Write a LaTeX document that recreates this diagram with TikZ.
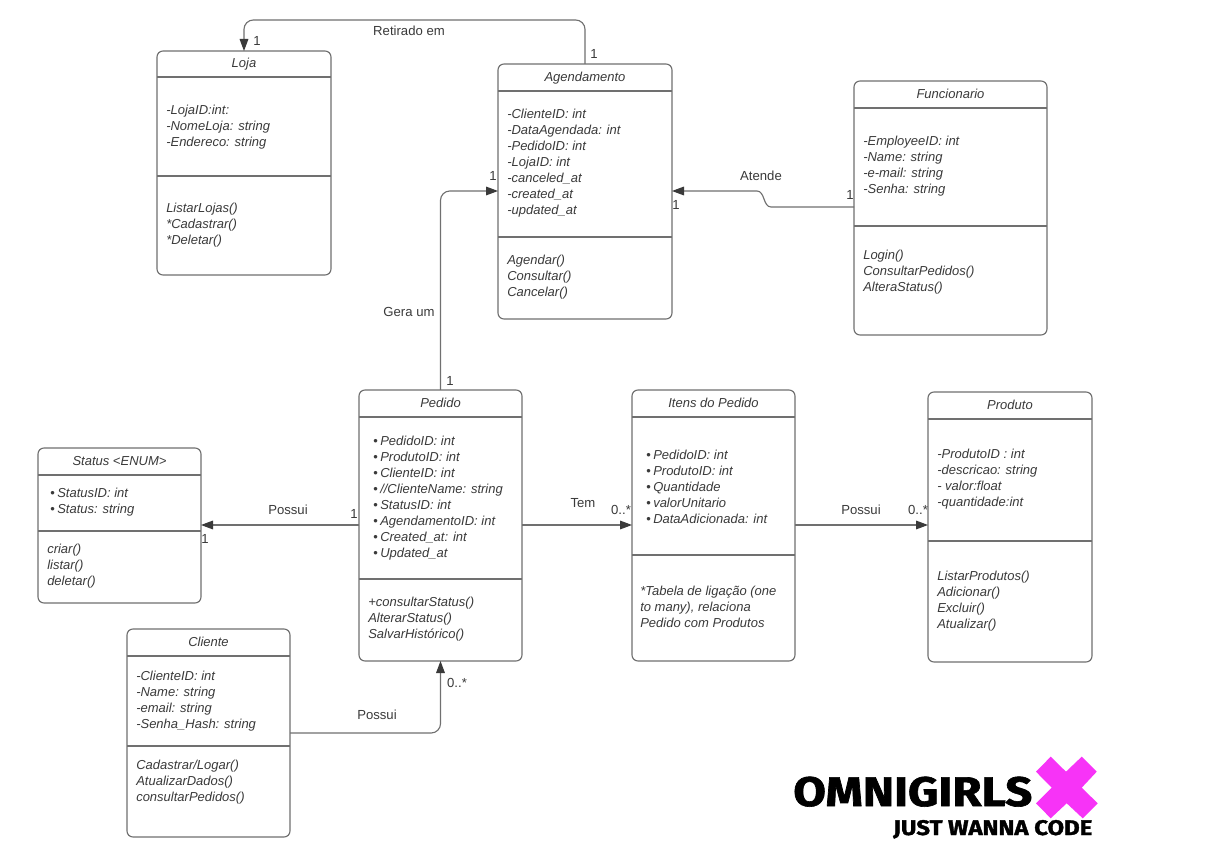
\documentclass[tikz,border=0pt]{standalone}
\usepackage{fontspec}
\usepackage{graphicx}
\setmainfont{Liberation Sans}
\newfontfamily\logofont[BoldFeatures={FakeBold=1.5}]{Fira Sans}
\usetikzlibrary{arrows.meta}
\newcommand\pxu{0.75pt}
\newcommand\bul{\makebox[7\dimexpr\pxu\relax][l]{\upshape\textbullet}}
\definecolor{linegray}{HTML}{707070}
\definecolor{inkgray}{HTML}{3A3A3A}
\definecolor{logomag}{HTML}{F733F7}
\tikzset{
  classbox/.style={draw=linegray,line width=0.85pt,rounded corners=4.5pt,fill=white,inner sep=0pt,outer sep=0pt},
  divider/.style={draw=linegray,line width=0.85pt},
  titletext/.style={font=\fontsize{9.75}{12}\selectfont\itshape,text=inkgray,inner sep=0pt,yshift=-1.5pt},
  membertext/.style={font=\fontsize{9.75}{12}\selectfont\itshape,text=inkgray,inner sep=0pt,anchor=west,align=left,yshift=-1.2pt},
  linklabel/.style={font=\fontsize{9.85}{12}\selectfont,text=inkgray,inner sep=0pt,yshift=-0.5pt},
  connector/.style={draw=linegray,line width=0.85pt,rounded corners=7pt},
  arrowed/.style={connector,-{Triangle[length=9pt,width=6.5pt,color=inkgray]}},
}
\begin{document}
\begin{tikzpicture}[x=0.75pt,y=-0.75pt]
\useasboundingbox (0,0) rectangle (1208,866);
\fill[white] (0,0) rectangle (1208,866);

% class boxes
\node[classbox,minimum width=174*\pxu,minimum height=224*\pxu] (loja) at (244,163) {};
\node[classbox,minimum width=174*\pxu,minimum height=255*\pxu] (agend) at (585,191.5) {};
\node[classbox,minimum width=193*\pxu,minimum height=254*\pxu] (func) at (950.5,208) {};
\node[classbox,minimum width=163*\pxu,minimum height=271*\pxu] (pedido) at (440.5,525.5) {};
\node[classbox,minimum width=163*\pxu,minimum height=271*\pxu] (itens) at (713.5,525.5) {};
\node[classbox,minimum width=164*\pxu,minimum height=270*\pxu] (produto) at (1010,527) {};
\node[classbox,minimum width=163*\pxu,minimum height=155*\pxu] (status) at (119.5,525.5) {};
\node[classbox,minimum width=163*\pxu,minimum height=208*\pxu] (cliente) at (208.5,733) {};

% dividers
\foreach \b/\ya/\yb in {loja/77/176,agend/91/237,func/108/226,pedido/417/579,itens/417/555,produto/419/541,status/475/531,cliente/656/746}{
  \draw[divider] (\b.west |- 0,\ya) -- (\b.east |- 0,\ya);
  \draw[divider] (\b.west |- 0,\yb) -- (\b.east |- 0,\yb);
}

% titles
\node[titletext] (tLoja) at (244,62.5) {Loja};
\node[titletext] (tAgend) at (585,76) {Agendamento};
\node[titletext] (tFunc) at (950.5,91.5) {Funcionario};
\node[titletext] (tPedido) at (440.5,400.5) {Pedido};
\node[titletext] (tItens) at (713.5,400.5) {Itens do Pedido};
\node[titletext] (tProduto) at (1010,402.5) {Produto};
\node[titletext] (tStatus) at (119.5,459.5) {Status <ENUM>};
\node[titletext] (tCliente) at (208.5,639.5) {Cliente};

% members
\node[membertext] (mLoja) at (166,126) {-LojaID:int:\\-NomeLoja: string\\-Endereco: string};
\node[membertext] (oLoja) at (166,224) {ListarLojas()\\*Cadastrar()\\*Deletar()};
\node[membertext] (mAgend) at (507,162) {-ClienteID: int\\-DataAgendada: int\\-PedidoID: int\\-LojaID: int\\-canceled\_at\\-created\_at\\-updated\_at};
\node[membertext] (oAgend) at (507,276) {Agendar()\\Consultar()\\Cancelar()};
\node[membertext] (mFunc) at (863,165) {-EmployeeID: int\\-Name: string\\-e-mail: string\\-Senha: string};
\node[membertext] (oFunc) at (863,271) {Login()\\ConsultarPedidos()\\AlteraStatus()};
\node[membertext] (mPedido) at (373,497) {\bul PedidoID: int\\\bul ProdutoID: int\\\bul ClienteID: int\\\bul //ClienteName: string\\\bul StatusID: int\\\bul AgendamentoID: int\\\bul Created\_at: int\\\bul Updated\_at};
\node[membertext] (oPedido) at (368,618) {+consultarStatus()\\AlterarStatus()\\SalvarHistórico()};
\node[membertext] (mItens) at (646,485) {\bul PedidoID: int\\\bul ProdutoID: int\\\bul Quantidade\\\bul valorUnitario\\\bul DataAdicionada: int};
\node[membertext] (oItens) at (640,605.5) {*Tabela de ligação (one\\to many), relaciona\\Pedido com Produtos};
\node[membertext] (mProduto) at (937,478) {-ProdutoID : int\\-descricao: string\\- valor:float\\-quantidade:int};
\node[membertext] (oProduto) at (937,600) {ListarProdutos()\\Adicionar()\\Excluir()\\Atualizar()};
\node[membertext] (mStatus) at (50,501) {\bul StatusID: int\\\bul Status: string};
\node[membertext] (oStatus) at (47,565) {criar()\\listar()\\deletar()};
\node[membertext] (mCliente) at (136,700) {-ClienteID: int\\-Name: string\\-email: string\\-Senha\_Hash: string};
\node[membertext] (oCliente) at (136,781) {Cadastrar/Logar()\\AtualizarDados()\\consultarPedidos()};

% connector ports
\coordinate (agendW) at (498,191);
\coordinate (agendE) at (672,191);
\coordinate (funcW) at (854,207);
\coordinate (atA) at (771,207);
\coordinate (atB) at (757,191);
\coordinate (atCa) at (763,207);
\coordinate (atCb) at (765,191);
\coordinate (topRun) at (400,20);
\coordinate (pedidoW) at (359,525);
\coordinate (statusE) at (201,525);
\coordinate (pedidoE) at (522,525);
\coordinate (itensW) at (632,525);
\coordinate (itensE) at (795,525);
\coordinate (produtoW) at (928,525);
\coordinate (clienteE) at (290,733);

% connectors
\draw[arrowed] (agend.north) |- (topRun) -| (loja.north);
\draw[arrowed] (pedido.north) |- (agendW);
\draw[arrowed,rounded corners=0pt] (funcW) -- (atA) .. controls (atCa) and (atCb) .. (atB) -- (agendE);
\draw[arrowed] (pedidoW) -- (statusE);
\draw[arrowed] (pedidoE) -- (itensW);
\draw[arrowed] (itensE) -- (produtoW);
\draw[arrowed] (clienteE) -| (pedido.south);

% link labels
\node[linklabel] (lRet) at (409,30) {Retirado em};
\node[linklabel] (lGera) at (409,311) {Gera um};
\node[linklabel] (lAtende) at (761,175) {Atende};
\node[linklabel] (lPossuiA) at (288,509) {Possui};
\node[linklabel] (lTem) at (583,502) {Tem};
\node[linklabel] (lPossuiB) at (861,509) {Possui};
\node[linklabel] (lPossuiC) at (377,714) {Possui};
\node[linklabel] (c1) at (257,40) {1};
\node[linklabel] (c2) at (594,53) {1};
\node[linklabel] (c3) at (493,175) {1};
\node[linklabel] (c4) at (450,380) {1};
\node[linklabel] (c5) at (676,204) {1};
\node[linklabel] (c6) at (850,194) {1};
\node[linklabel] (c7) at (354,513) {1};
\node[linklabel] (c8) at (205,538) {1};
\node[linklabel] (c9) at (621,509) {0..*};
\node[linklabel] (c10) at (918,509) {0..*};
\node[linklabel] (c11) at (457,682) {0..*};

% logo
\node[inner sep=0pt,anchor=base west] (logoA) at (793,806) {\resizebox{179.25pt}{22pt}{\logofont\bfseries OMNIGIRLS}};
\node[inner sep=0pt,anchor=base west] (logoB) at (893,835) {\resizebox{149.25pt}{11.25pt}{\logofont\bfseries JUST WANNA CODE}};
\fill[logomag] (1050.7,756.7) -- (1066,771.7) -- (1081.7,756.7) -- (1096.7,771.7) -- (1081.7,787.7) -- (1097.7,803.3) -- (1082.7,818.3) -- (1066.7,803.3) -- (1050.7,818.3) -- (1036,803.3) -- (1051.7,787.7) -- (1036,771.7) -- cycle;
\end{tikzpicture}
\end{document}
